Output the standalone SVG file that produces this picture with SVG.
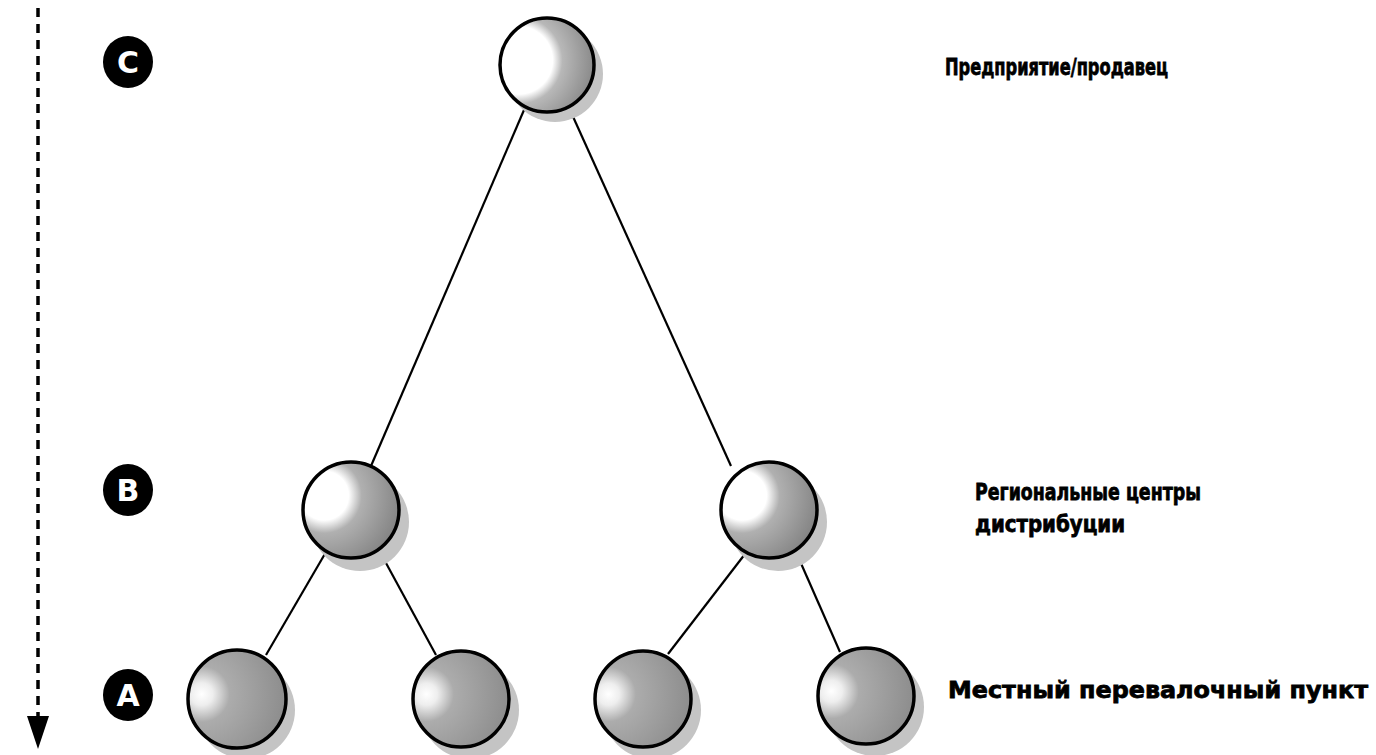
<svg xmlns="http://www.w3.org/2000/svg" width="1376" height="755" viewBox="0 0 1376 755">
<defs>
<style>
.node{stroke:#000;stroke-width:3.5}
.shadow{fill:#c4c4c4}
.edge{stroke:#000;stroke-width:2.2;fill:none}
.badge{fill:#000}
.bl{font-family:"DejaVu Sans","Liberation Sans",sans-serif;font-weight:bold;font-size:30px;fill:#fff;text-anchor:middle}
.lbl{font-family:"DejaVu Sans","Liberation Sans",sans-serif;font-weight:bold;font-size:23px;fill:#000;stroke:#000;stroke-width:0.8}
</style>
<radialGradient id="gTop" cx="0.2" cy="0.45" r="0.8">
<stop offset="0" stop-color="#fff"/><stop offset="0.45" stop-color="#fff"/><stop offset="0.58" stop-color="#b8b8b8"/><stop offset="1" stop-color="#8a8a8a"/>
</radialGradient>
<radialGradient id="gB" cx="0.22" cy="0.35" r="0.85">
<stop offset="0" stop-color="#fff"/><stop offset="0.3" stop-color="#fff"/><stop offset="0.46" stop-color="#b0b0b0"/><stop offset="1" stop-color="#808080"/>
</radialGradient>
<radialGradient id="gA" cx="0.14" cy="0.45" r="0.95">
<stop offset="0" stop-color="#fff"/><stop offset="0.12" stop-color="#eee"/><stop offset="0.3" stop-color="#acacac"/><stop offset="1" stop-color="#888"/>
</radialGradient>
</defs>
<rect width="1376" height="755" fill="#fff"/>

<g id="axis">
<line x1="38" y1="8" x2="38" y2="716" stroke="#000" stroke-width="3.5" stroke-dasharray="9 7"/>
<polygon points="27,716 49,716 38,749" fill="#000"/>
</g>

<g id="connectors">
<line class="edge" x1="524" y1="110" x2="371" y2="466"/>
<line class="edge" x1="570" y1="110" x2="731" y2="466"/>
<line class="edge" x1="326" y1="552" x2="266" y2="655"/>
<line class="edge" x1="380" y1="552" x2="436" y2="655"/>
<line class="edge" x1="745" y1="554" x2="668" y2="654"/>
<line class="edge" x1="796" y1="552" x2="840" y2="652"/>
</g>

<g id="badge-C"><ellipse class="badge" cx="128" cy="62" rx="25" ry="26"/><text class="bl" x="128" y="73">C</text></g>
<g id="badge-B"><ellipse class="badge" cx="128" cy="490" rx="25" ry="26"/><text class="bl" x="128" y="501">B</text></g>
<g id="badge-A"><ellipse class="badge" cx="128" cy="695" rx="25" ry="26"/><text class="bl" x="128" y="706">A</text></g>

<g id="node-top"><circle class="shadow" cx="555" cy="74" r="48"/><circle class="node" cx="547" cy="65" r="47" fill="url(#gTop)"/></g>
<g id="node-b1"><circle class="shadow" cx="360" cy="522" r="49"/><circle class="node" cx="351" cy="510" r="48" fill="url(#gB)"/></g>
<g id="node-b2"><circle class="shadow" cx="778" cy="522" r="49"/><circle class="node" cx="769" cy="510" r="48" fill="url(#gB)"/></g>
<g id="node-a1"><circle class="shadow" cx="246" cy="710" r="49"/><circle class="node" cx="237" cy="699" r="49" fill="url(#gA)"/></g>
<g id="node-a2"><circle class="shadow" cx="470" cy="710" r="49"/><circle class="node" cx="461" cy="699" r="48" fill="url(#gA)"/></g>
<g id="node-a3"><circle class="shadow" cx="652" cy="710" r="49"/><circle class="node" cx="643" cy="699" r="48" fill="url(#gA)"/></g>
<g id="node-a4"><circle class="shadow" cx="875" cy="707" r="49"/><circle class="node" cx="866" cy="696" r="48" fill="url(#gA)"/></g>

<g id="labels">
<text class="lbl" x="945" y="75" textLength="223" lengthAdjust="spacingAndGlyphs">Предприятие/продавец</text>
<text class="lbl" x="975" y="500" textLength="226" lengthAdjust="spacingAndGlyphs">Региональные центры</text>
<text class="lbl" x="975" y="532" textLength="150" lengthAdjust="spacingAndGlyphs">дистрибуции</text>
<text class="lbl" x="948" y="698" textLength="420" lengthAdjust="spacingAndGlyphs">Местный перевалочный пункт</text>
</g>
</svg>
